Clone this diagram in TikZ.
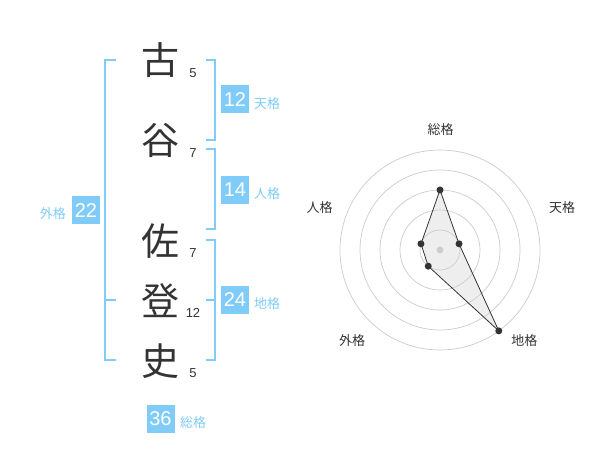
\documentclass[tikz,border=0pt]{standalone}
\usepackage{fontspec}
\setmainfont{Liberation Sans}
\newfontfamily\cjk{Noto Sans CJK JP}
\usetikzlibrary{calc}
\definecolor{lb}{RGB}{128,204,248}
\definecolor{tx}{RGB}{51,51,51}
\definecolor{gc}{RGB}{204,204,204}
\definecolor{pf}{RGB}{238,238,238}
\begin{document}
\begin{tikzpicture}[x=1pt,y=-1pt,
 kanji/.style={font=\cjk\fontsize{38}{38}\selectfont, text=tx, inner sep=0},
 strokes/.style={font=\fontsize{13}{13}\selectfont, text=tx, inner sep=0},
 valbox/.style={fill=lb, text=white, minimum size=28pt, inner sep=0, font=\fontsize{20}{20}\selectfont},
 kaku/.style={text=lb, font=\cjk\fontsize{13}{13}\selectfont, inner sep=0},
 brk/.style={draw=lb, line width=2pt},
 ring/.style={draw=gc, line width=0.7pt},
 rlab/.style={text=tx, font=\cjk\fontsize{13}{13}\selectfont, inner sep=0},
 dot/.style={circle, fill=tx, inner sep=0, minimum size=7pt},
 cdot/.style={circle, fill=gc, inner sep=0, minimum size=7pt},
]
\useasboundingbox (0,0) rectangle (600,470);
\fill[white] (0,0) rectangle (600,470);

% name characters
\node[kanji] (k1) at (160,60) {古};
\node[kanji] (k2) at (160,140) {谷};
\node[kanji] (k3) at (160,241) {佐};
\node[kanji] (k4) at (160,301) {登};
\node[kanji] (k5) at (160,361) {史};

% stroke counts
\node[strokes] (s1) at (193,72.7) {5};
\node[strokes] (s2) at (193,152.7) {7};
\node[strokes] (s3) at (193,252.7) {7};
\node[strokes] (s4) at (193,312.7) {12};
\node[strokes] (s5) at (193,373.3) {5};

% brackets
\draw[brk] (206,60) -- (215,60) -- (215,140) -- (206,140);
\draw[brk] (206,149) -- (215,149) -- (215,229) -- (206,229);
\draw[brk] (206,240) -- (215,240) -- (215,360) -- (206,360);
\draw[brk] (206,300) -- (215,300);
\draw[brk] (116,60) -- (105,60) -- (105,360) -- (116,360);
\draw[brk] (105,300) -- (116,300);

% value boxes
\node[valbox] (ten) at (235,99.5) {12};
\node[kaku, anchor=west] (tenl) at (254,103.5) {天格};
\node[valbox] (jin) at (235,190) {14};
\node[kaku, anchor=west] (jinl) at (254,194) {人格};
\node[valbox] (chi) at (235,300) {24};
\node[kaku, anchor=west] (chil) at (254,304) {地格};
\node[valbox] (gai) at (86,210.5) {22};
\node[kaku, anchor=east] (gail) at (66,214) {外格};
\node[valbox] (sou) at (160.5,419) {36};
\node[kaku, anchor=west] (soul) at (180,422.7) {総格};

% radar chart
\coordinate (c) at (440,250);
\coordinate (pS) at ($(c)+(90:60pt)$);
\coordinate (pT) at ($(c)+(18:20pt)$);
\coordinate (pC) at ($(c)+(-54:100pt)$);
\coordinate (pG) at ($(c)+(-126:20pt)$);
\coordinate (pJ) at ($(c)+(162:20pt)$);
\fill[pf] (pS) -- (pT) -- (pC) -- (pG) -- (pJ) -- cycle;
\foreach \r in {20,40,60,80,100} \draw[ring] (c) circle (\r pt);
\node[cdot] (cd) at (c) {};
\draw[tx, line width=0.8pt, line join=round] (pS) -- (pT) -- (pC) -- (pG) -- (pJ) -- cycle;
\foreach \p in {pS,pT,pC,pG,pJ} \node[dot] (d\p) at (\p) {};

\node[rlab] (lS) at (440.5,130) {総格};
\node[rlab] (lT) at (562,208) {天格};
\node[rlab] (lC) at (524.3,341) {地格};
\node[rlab] (lG) at (352,341) {外格};
\node[rlab] (lJ) at (319.5,208) {人格};
\end{tikzpicture}
\end{document}
